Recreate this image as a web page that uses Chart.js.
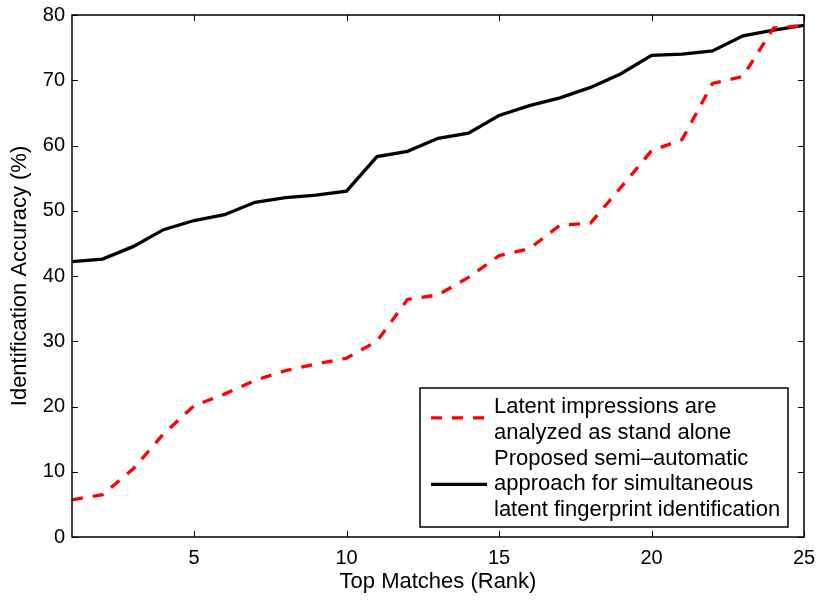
<!DOCTYPE html>
<html>
<head>
<meta charset="utf-8">
<script src="https://cdn.jsdelivr.net/npm/chart.js@4.4.0/dist/chart.umd.min.js"></script>
<style>
  html, body { margin: 0; padding: 0; background: #fff; }
  #wrap { width: 820px; height: 602px; }
</style>
</head>
<body>
<div id="wrap"><canvas id="accChart"></canvas></div>
<script>
// ---- data ----
const ranks = [1, 2, 3, 4, 5, 6, 7, 8, 9, 10, 11, 12, 13, 14, 15, 16, 17, 18, 19, 20, 21, 22, 23, 24, 25];
const standAlone = [5.7, 6.5, 10.4, 15.8, 20.1, 21.9, 24.0, 25.5, 26.5, 27.4, 30.0, 36.4, 37.1, 39.8, 43.1, 44.2, 47.8, 48.1, 53.6, 59.2, 60.9, 69.5, 70.6, 78.0, 78.4];
const proposed = [42.2, 42.6, 44.5, 47.1, 48.5, 49.4, 51.3, 52.0, 52.4, 53.0, 58.3, 59.1, 61.1, 61.9, 64.6, 66.1, 67.3, 68.9, 71.0, 73.8, 74.0, 74.5, 76.8, 77.7, 78.4];
const xTicks = [5, 10, 15, 20, 25];
const yTicks = [0, 10, 20, 30, 40, 50, 60, 70, 80];
const legendText = [
    ['Latent impressions are', 'analyzed as stand alone'],
    ['Proposed semi\u2013automatic', 'approach for simultaneous', 'latent fingerprint identification']
];

const FONT = 'Liberation Sans, Arial, Helvetica, sans-serif';
const RED = '#ff0000';
const BLACK = '#000000';
const DASH = [11, 10];

// frame + inward tick marks, MATLAB style
const framePlugin = {
    id: 'frame',
    afterDatasetsDraw(chart) {
        const { ctx, chartArea: a, scales } = chart;
        ctx.save();
        ctx.strokeStyle = BLACK;
        ctx.lineWidth = 1;
        ctx.beginPath();
        xTicks.forEach(v => {
            const px = Math.round(scales.x.getPixelForValue(v)) + 0.5;
            ctx.moveTo(px, a.bottom); ctx.lineTo(px, a.bottom - 6);
            ctx.moveTo(px, a.top); ctx.lineTo(px, a.top + 6);
        });
        yTicks.forEach(v => {
            const py = Math.round(scales.y.getPixelForValue(v)) + 0.5;
            ctx.moveTo(a.left, py); ctx.lineTo(a.left + 6, py);
            ctx.moveTo(a.right, py); ctx.lineTo(a.right - 6, py);
        });
        ctx.stroke();
        ctx.lineWidth = 1.5;
        ctx.strokeRect(Math.round(a.left), Math.round(a.top), Math.round(a.right - a.left), Math.round(a.bottom - a.top));
        ctx.restore();
    }
};

// boxed legend in the lower right corner
const legendPlugin = {
    id: 'boxLegend',
    afterDraw(chart) {
        const { ctx, chartArea: a } = chart;
        const w = 368, h = 139;
        const x0 = a.right - 16 - w;
        const y0 = a.bottom - 10 - h;
        const lineH = 25.8;
        ctx.save();
        ctx.fillStyle = '#fff';
        ctx.fillRect(x0, y0, w, h);
        ctx.strokeStyle = BLACK;
        ctx.lineWidth = 1.5;
        ctx.strokeRect(x0, y0, w, h);

        ctx.font = '22px ' + FONT;
        ctx.fillStyle = BLACK;
        ctx.textBaseline = 'middle';
        let row = 0;
        const styles = [{ color: RED, dash: DASH }, { color: BLACK, dash: [] }];
        legendText.forEach((lines, i) => {
            const first = y0 + 19 + row * lineH;
            lines.forEach((t, j) => ctx.fillText(t, x0 + 74, first + j * lineH));
            const mid = first + (lines.length - 1) * lineH / 2 + (lines.length === 2 ? -2 : 0);
            ctx.save();
            ctx.strokeStyle = styles[i].color;
            ctx.lineWidth = 3.3;
            ctx.setLineDash(styles[i].dash);
            ctx.beginPath();
            ctx.moveTo(x0 + 11, mid);
            ctx.lineTo(x0 + 67, mid);
            ctx.stroke();
            ctx.restore();
            row += lines.length;
        });
        ctx.restore();
    }
};

const ctx = document.getElementById('accChart').getContext('2d');
new Chart(ctx, {
    type: 'line',
    data: {
        datasets: [{
            label: 'Latent impressions are analyzed as stand alone',
            data: ranks.map((r, i) => ({ x: r, y: standAlone[i] })),
            borderColor: RED,
            borderWidth: 3.3,
            borderDash: DASH,
            pointRadius: 0,
            tension: 0,
            fill: false
        }, {
            label: 'Proposed semi-automatic approach for simultaneous latent fingerprint identification',
            data: ranks.map((r, i) => ({ x: r, y: proposed[i] })),
            borderColor: BLACK,
            borderWidth: 3.3,
            pointRadius: 0,
            tension: 0,
            fill: false
        }]
    },
    options: {
        responsive: true,
        maintainAspectRatio: false,
        animation: false,
        layout: { padding: { top: 15, right: 16, left: 0, bottom: 0 } },
        plugins: {
            legend: { display: false },
            tooltip: { enabled: false }
        },
        scales: {
            x: {
                type: 'linear',
                min: 1,
                max: 25,
                afterBuildTicks: scale => { scale.ticks = xTicks.map(v => ({ value: v })); },
                afterFit: scale => { scale.height = 65; scale.paddingLeft = 0; scale.paddingRight = 0; },
                grid: { display: false, drawTicks: false },
                border: { display: false },
                ticks: { color: BLACK, font: { family: FONT, size: 20 }, padding: 9, maxRotation: 0 },
                title: { display: true, text: 'Top Matches (Rank)', color: BLACK, font: { family: FONT, size: 22 }, padding: { top: 2, bottom: 7 } }
            },
            y: {
                min: 0,
                max: 80,
                afterBuildTicks: scale => { scale.ticks = yTicks.map(v => ({ value: v })); },
                afterFit: scale => { scale.width = 72; scale.paddingTop = 0; scale.paddingBottom = 0; },
                grid: { display: false, drawTicks: false },
                border: { display: false },
                ticks: { color: BLACK, font: { family: FONT, size: 20 }, padding: 7 },
                title: { display: true, text: 'Identification Accuracy (%)', color: BLACK, font: { family: FONT, size: 22 }, padding: { top: 7, bottom: 4 } }
            }
        }
    },
    plugins: [framePlugin, legendPlugin]
});
</script>
</body>
</html>
